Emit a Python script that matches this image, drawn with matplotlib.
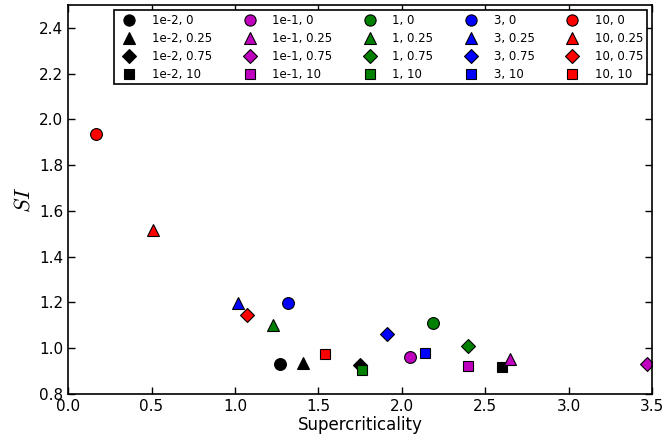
import matplotlib
matplotlib.use("Agg")
import matplotlib.pyplot as plt

# colour -> first parameter, marker -> second parameter
first_params = ["1e-2", "1e-1", "1", "3", "10"]
second_params = ["0", "0.25", "0.75", "10"]
colors = ["k", "m", "g", "b", "r"]
markers = ["o", "^", "D", "s"]

# supercriticality / SI per (first, second) pair, rows follow first_params
supercrit = [
    [1.27, 1.41, 1.75, 2.60],
    [2.05, 2.65, 3.47, 2.40],
    [2.19, 1.23, 2.40, 1.76],
    [1.32, 1.02, 1.91, 2.14],
    [0.17, 0.51, 1.07, 1.54],
]
si = [
    [0.93, 0.935, 0.925, 0.915],
    [0.96, 0.95, 0.93, 0.92],
    [1.11, 1.10, 1.01, 0.905],
    [1.195, 1.195, 1.06, 0.98],
    [1.935, 1.515, 1.145, 0.975],
]

plt.rcParams["font.family"] = ["DejaVu Sans"]
plt.rcParams["mathtext.fontset"] = "cm"

fig, ax = plt.subplots(figsize=(6.68, 4.47), dpi=100)
fig.subplots_adjust(left=0.102, right=0.976, top=0.989, bottom=0.119)

for i, (fp, c) in enumerate(zip(first_params, colors)):
    for j, (sp, m) in enumerate(zip(second_params, markers)):
        ms = 7.5 if m in ("D", "s") else 8.5
        ax.plot(supercrit[i][j], si[i][j], linestyle="none", marker=m,
                color=c, markeredgecolor="k", markeredgewidth=0.8,
                markersize=ms, label=f"{fp}, {sp}")

ax.set_xlim(0, 3.5)
ax.set_ylim(0.8, 2.5)
ax.set_xticks([0.0, 0.5, 1.0, 1.5, 2.0, 2.5, 3.0, 3.5])
ax.set_yticks([0.8, 1.0, 1.2, 1.4, 1.6, 1.8, 2.0, 2.2, 2.4])
ax.tick_params(direction="in", top=True, right=True, length=5,
               labelsize=11, width=1)
for s in ax.spines.values():
    s.set_linewidth(1.2)
ax.set_xlabel("Supercriticality", fontsize=12, labelpad=2)
ax.set_ylabel("$SI$", fontsize=16)

leg = ax.legend(loc="upper right", ncol=5, numpoints=1, fontsize=8.5,
                fancybox=False, edgecolor="k", framealpha=1,
                handlelength=2.0, handletextpad=0.9, columnspacing=2.2,
                labelspacing=0.42, borderaxespad=0.45, borderpad=0.3,
                markerscale=0.95)
leg.get_frame().set_linewidth(1.2)

fig.savefig("out.png", dpi=100)
